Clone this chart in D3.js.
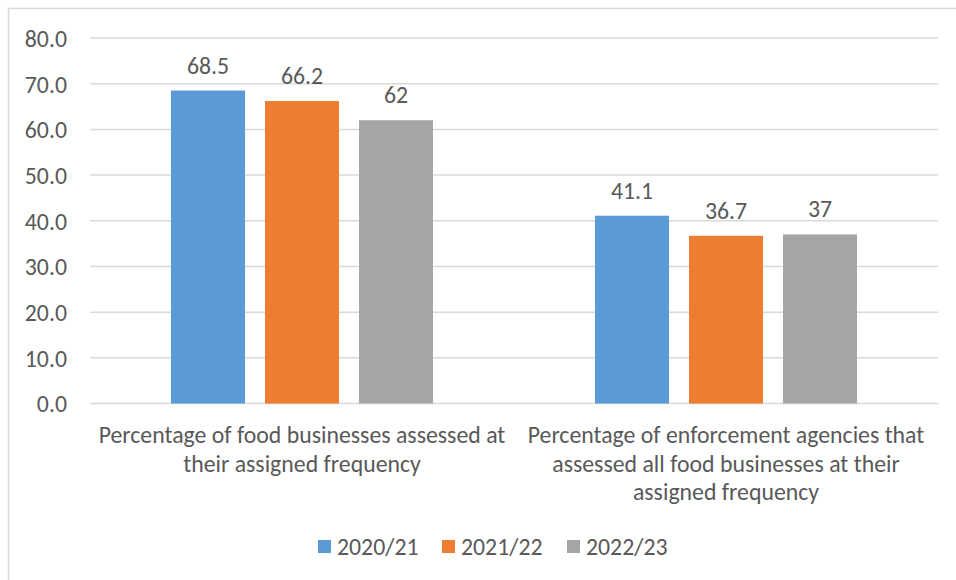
<!DOCTYPE html>
<html>
<head>
<meta charset="utf-8">
<script src="https://cdn.jsdelivr.net/npm/d3@7"></script>
<style>
  html, body { margin: 0; padding: 0; background: #fff; }
  svg { display: block; }
  text { font-family: Carlito, Lato, "Open Sans", sans-serif; fill: #595959; }
</style>
</head>
<body>
<svg id="chart" width="956" height="580"></svg>
<script>
// Categories (each wrapped onto lines) and series
const categories = [
  ["Percentage of food businesses assessed at", "their assigned frequency"],
  ["Percentage of enforcement agencies that", "assessed all food businesses at their", "assigned frequency"]
];
const seriesNames = ["2020/21", "2021/22", "2022/23"];
const seriesColors = ["#5B9BD5", "#ED7D31", "#A5A5A5"];
const values2020 = [68.5, 41.1];
const values2021 = [66.2, 36.7];
const values2022 = [62, 37];
const yTicks = [0, 10, 20, 30, 40, 50, 60, 70, 80];

const seriesValues = [values2020, values2021, values2022];
const fontSize = 23.8;

const svg = d3.select("#chart");

// chart frame
svg.append("rect")
  .attr("x", 8.5).attr("y", 8.5)
  .attr("width", 960).attr("height", 600)
  .attr("fill", "#fff").attr("stroke", "#D9D9D9").attr("stroke-width", 1.5);

const plot = { left: 90, right: 938, top: 38, bottom: 403.5 };

const x0 = d3.scaleBand()
  .domain(d3.range(categories.length))
  .range([plot.left, plot.right])
  .paddingInner(0).paddingOuter(0);

// bars occupy the central part of each category band
const groupFrac = 262 / 424;
const x1 = d3.scaleBand()
  .domain(d3.range(seriesNames.length))
  .range([0, x0.bandwidth() * groupFrac])
  .paddingInner(20 / 94);

const y = d3.scaleLinear().domain([0, 80]).range([plot.bottom, plot.top]);

// gridlines
svg.append("g")
  .selectAll("line")
  .data(yTicks)
  .join("line")
  .attr("x1", plot.left).attr("x2", plot.right)
  .attr("y1", d => y(d)).attr("y2", d => y(d))
  .attr("stroke", "#D9D9D9").attr("stroke-width", 1.5);

// y axis labels
const yAxis = d3.axisLeft(y).tickValues(yTicks).tickFormat(d3.format(".1f")).tickSize(0).tickPadding(0);
const gy = svg.append("g").attr("transform", `translate(${67},0)`).call(yAxis);
gy.select(".domain").remove();
gy.selectAll("text")
  .attr("font-size", fontSize)
  .attr("font-family", null)
  .attr("fill", "#595959")
  .attr("dy", "0.35em");

// bars
const groups = svg.append("g")
  .selectAll("g")
  .data(categories.map((c, i) => i))
  .join("g")
  .attr("transform", i => `translate(${x0(i) + x0.bandwidth() * (1 - groupFrac) / 2},0)`);

groups.selectAll("rect")
  .data(i => seriesValues.map((vals, s) => ({ s, v: vals[i] })))
  .join("rect")
  .attr("x", d => x1(d.s))
  .attr("width", x1.bandwidth())
  .attr("y", d => y(d.v))
  .attr("height", d => y(0) - y(d.v))
  .attr("fill", d => seriesColors[d.s]);

groups.selectAll("text.val")
  .data(i => seriesValues.map((vals, s) => ({ s, v: vals[i] })))
  .join("text")
  .attr("class", "val")
  .attr("x", d => x1(d.s) + x1.bandwidth() / 2)
  .attr("y", d => y(d.v) - 17)
  .attr("text-anchor", "middle")
  .attr("font-size", fontSize)
  .text(d => String(d.v));

// category labels
const catG = svg.append("g");
categories.forEach((lines, i) => {
  const t = catG.append("text")
    .attr("text-anchor", "middle")
    .attr("font-size", fontSize)
    .attr("x", x0(i) + x0.bandwidth() / 2)
    .attr("y", 443);
  lines.forEach((ln, k) => {
    t.append("tspan")
      .attr("x", x0(i) + x0.bandwidth() / 2)
      .attr("dy", k === 0 ? 0 : 28.5)
      .text(ln);
  });
});

// legend
const legendX = [318, 442, 567];
const leg = svg.append("g")
  .selectAll("g")
  .data(seriesNames.map((n, i) => ({ n, i })))
  .join("g")
  .attr("transform", d => `translate(${legendX[d.i]},540)`);
leg.append("rect").attr("width", 13).attr("height", 13).attr("fill", d => seriesColors[d.i]);
leg.append("text").attr("x", 19).attr("y", 14.5).attr("font-size", fontSize).text(d => d.n);
</script>
</body>
</html>
